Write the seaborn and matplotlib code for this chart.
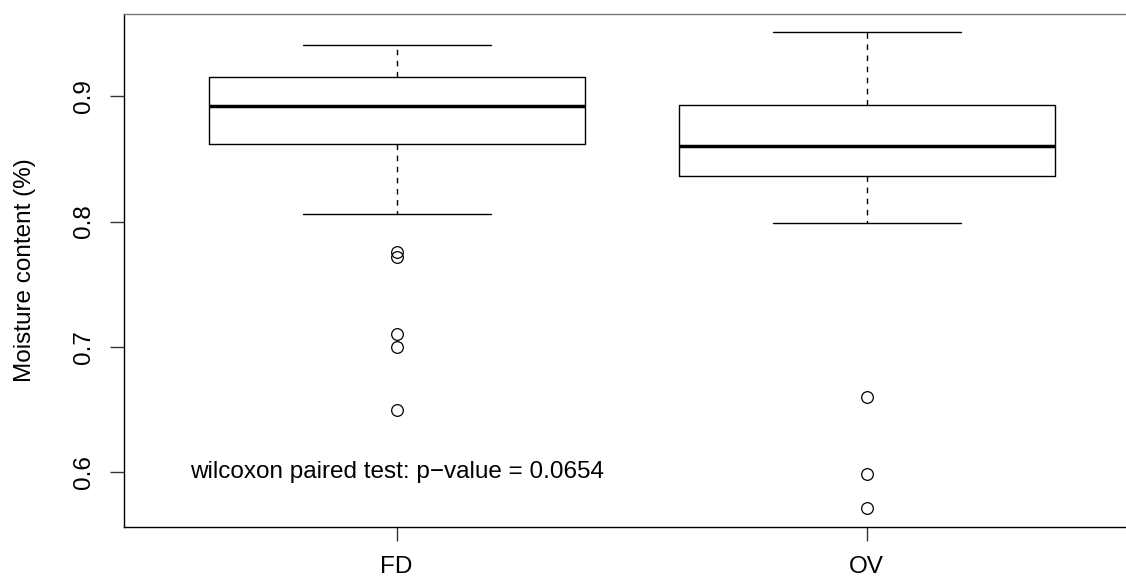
import matplotlib
matplotlib.use("Agg")
import matplotlib.pyplot as plt
import seaborn as sns
import pandas as pd

# Moisture content per sample, two drying methods (paired samples)
groups = ["FD", "OV"]
fd_values = [0.650, 0.700, 0.710, 0.772, 0.776, 0.806, 0.862, 0.868, 0.874,
             0.879, 0.883, 0.888, 0.892, 0.896, 0.899, 0.903, 0.906, 0.910,
             0.915, 0.919, 0.923, 0.927, 0.931, 0.936, 0.941]
ov_values = [0.572, 0.599, 0.660, 0.799, 0.815, 0.828, 0.836, 0.840, 0.844,
             0.847, 0.851, 0.855, 0.860, 0.864, 0.868, 0.873, 0.879, 0.886,
             0.893, 0.901, 0.910, 0.919, 0.928, 0.939, 0.951]
y_ticks = [0.6, 0.7, 0.8, 0.9]
p_value = 0.0654

df = pd.DataFrame({
    "method": [groups[0]] * len(fd_values) + [groups[1]] * len(ov_values),
    "moisture": fd_values + ov_values,
})

sns.set_theme(style="white")
plt.rcParams["font.family"] = ["Liberation Sans", "DejaVu Sans"]

FS = 17.5

fig = plt.figure(figsize=(11.26, 5.80), dpi=100)
ax = fig.add_axes([124 / 1126, 53 / 580, 1002 / 1126, 513 / 580])

sns.boxplot(
    data=df, x="method", y="moisture", order=groups, ax=ax,
    fill=False, color="black", linecolor="black", width=0.8, whis=1.5,
    linewidth=1.0,
    boxprops=dict(linewidth=1.0, color="black"),
    medianprops=dict(linewidth=2.5, color="black", solid_capstyle="butt"),
    whiskerprops=dict(linewidth=1.0, linestyle=(0, (4, 4)), color="black"),
    capprops=dict(linewidth=1.0, color="black"),
    flierprops=dict(marker="o", markersize=8.4, markerfacecolor="none",
                    markeredgecolor="black", markeredgewidth=0.9),
)

ax.set_xlim(-0.58, 1.552)
ax.set_ylim(0.5565, 0.9654)

ax.set_yticks(y_ticks)
ax.set_yticklabels([f"{t:.1f}" for t in y_ticks], rotation=90, va="center")
ax.tick_params(axis="both", which="both", direction="out", length=10,
               width=1.0, color="#333333", labelsize=FS, left=True, bottom=True,
               labelcolor="black")
ax.tick_params(axis="y", pad=11)
ax.tick_params(axis="x", pad=11)

ax.set_xlabel("")
ax.set_ylabel("Moisture content (%)", fontsize=FS, color="black")
ax.yaxis.set_label_coords(-0.088, 0.5)

for side in ("left", "bottom"):
    ax.spines[side].set_color("black")
    ax.spines[side].set_linewidth(1.0)
ax.spines["top"].set_color("#7a7a7a")
ax.spines["top"].set_linewidth(1.0)
ax.spines["right"].set_visible(False)

ax.text(0, 0.6, f"wilcoxon paired test: p\u2212value = {p_value}",
        ha="center", va="center", fontsize=FS, color="black")

fig.savefig("out.png", dpi=100, facecolor="white")
